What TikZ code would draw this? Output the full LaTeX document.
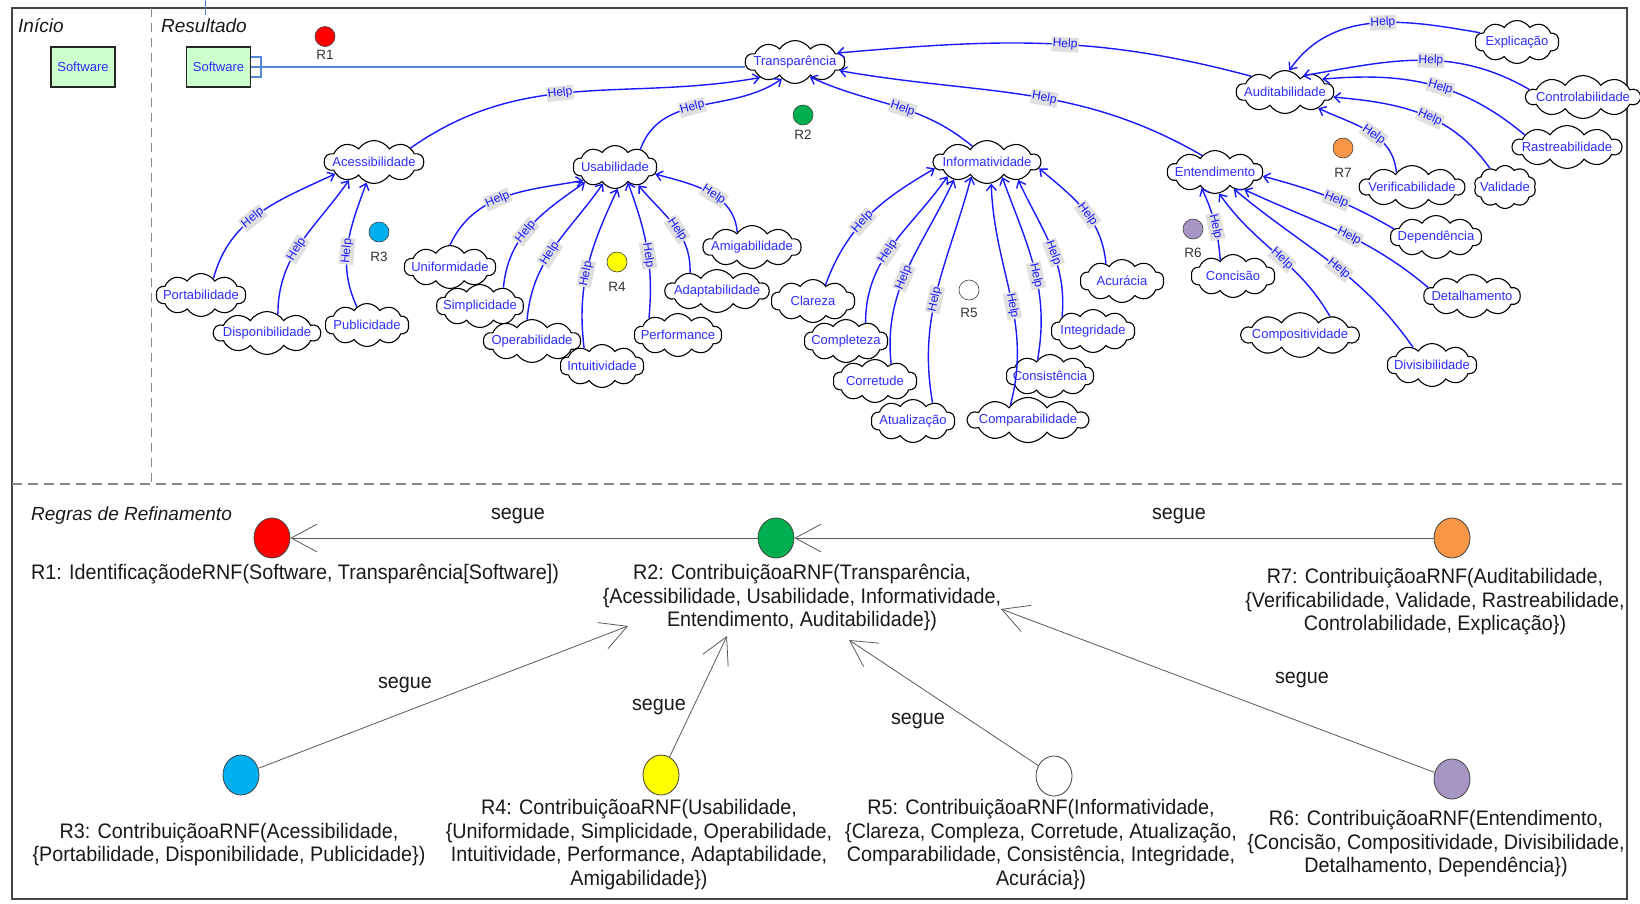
\documentclass[tikz,border=0pt]{standalone}
\usepackage{fontspec}
\setmainfont{Liberation Sans}
\newfontfamily\rulefont[FakeStretch=0.94]{Liberation Sans}
\usetikzlibrary{shapes.symbols,shapes.geometric,arrows.meta}

\definecolor{helpblue}{RGB}{25,25,255}
\definecolor{txtblue}{RGB}{45,45,255}
\definecolor{lblgray}{RGB}{224,224,224}
\definecolor{boxgreen}{RGB}{204,255,204}
\definecolor{steel}{RGB}{85,135,215}
\definecolor{framecol}{RGB}{70,70,70}
\definecolor{dashgray}{RGB}{135,135,135}
\definecolor{rred}{RGB}{255,0,0}
\definecolor{rgreen}{RGB}{0,176,80}
\definecolor{rcyan}{RGB}{0,176,240}
\definecolor{ryellow}{RGB}{255,255,0}
\definecolor{rpurple}{RGB}{166,150,196}
\definecolor{rorange}{RGB}{247,150,70}
\definecolor{ruletext}{RGB}{25,25,25}

% softgoal contribution: source anchor, out, in, target anchor
\newcommand\helplink[6]{%
  \draw[helpedge] (#1.#2) to[out=#3,in=#4] node[helplbl]{Help} (#5.#6);}

\begin{document}
\begin{tikzpicture}[x=1pt,y=1pt,
  softgoal/.style={cloud, cloud puffs=10, cloud puff arc=115, cloud ignores aspect,
    draw=black, line width=1.1pt, fill=white, inner xsep=-6pt, inner ysep=3pt,
    minimum width=84pt, minimum height=43pt,
    font=\fontsize{13}{15}\selectfont, text=txtblue},
  swbox/.style={draw=black!85, line width=1.1pt, fill=boxgreen, minimum width=64pt,
    minimum height=40pt, inner sep=0pt, font=\fontsize{13}{15}\selectfont, text=txtblue},
  helpedge/.style={draw=helpblue, line width=1.4pt, -{Straight Barb[length=6pt,width=10pt]}},
  helplbl/.style={sloped, pos=0.45, fill=lblgray, inner xsep=1pt, inner ysep=1.8pt,
    text=helpblue, font=\fontsize{12}{13}\selectfont},
  steelline/.style={draw=steel, line width=1.2pt},
  rdot/.style={circle, draw=black!75, line width=0.6pt, minimum size=20pt, inner sep=0pt},
  rlab/.style={font=\fontsize{13.5}{15}\selectfont, text=black!80, inner sep=0pt},
  sectitle/.style={font=\fontsize{19}{22}\selectfont\itshape, text=black!90, inner sep=0pt},
  rulebig/.style={ellipse, draw=black!75, line width=0.8pt, minimum width=36pt,
    minimum height=40pt, inner sep=0pt},
  ruletxt/.style={align=center, inner sep=0pt, text=ruletext,
    font=\rulefont\fontsize{21}{23.5}\selectfont},
  segueedge/.style={draw=black!65, line width=0.8pt, -{Straight Barb[length=26pt,width=28pt]}},
  seguelbl/.style={inner sep=0pt, text=ruletext, font=\rulefont\fontsize{21}{23.5}\selectfont}]

\useasboundingbox (0,0) rectangle (1640,-903);

% frame and lanes
\draw[framecol, line width=1.3pt] (12,-8) rectangle (1627,-899);
\draw[dashgray, line width=1.3pt, dash pattern=on 9pt off 6pt] (151.5,-8) -- (151.5,-484);
\draw[dashgray, line width=1.3pt, dash pattern=on 10pt off 6pt] (12,-484) -- (1627,-484);
\draw[steel, line width=1pt] (205.7,0) -- (205.7,-15);

\node[sectitle, anchor=west] (tinicio) at (18,-26) {Início};
\node[sectitle, anchor=west] (tresult) at (161,-26) {Resultado};
\node[sectitle, anchor=west] (tregras) at (31,-516) {Regras de Refinamento};

% software boxes
\node[swbox] (sw1) at (83,-67) {Software};
\node[swbox] (sw2) at (218.5,-67) {Software};

% softgoals
\node[softgoal] (T) at (795,-62) {Transparência};
\node[softgoal] (acc) at (374,-162) {Acessibilidade};
\node[softgoal] (usa) at (615,-167) {Usabilidade};
\node[softgoal] (inf) at (987,-162) {Informatividade};
\node[softgoal] (ent) at (1215,-172) {Entendimento};
\node[softgoal] (aud) at (1285,-92) {Auditabilidade};

\node[softgoal] (port) at (201,-295) {Portabilidade};
\node[softgoal] (disp) at (267,-333) {Disponibilidade};
\node[softgoal] (publ) at (367,-325) {Publicidade};

\node[softgoal] (unif) at (450,-267) {Uniformidade};
\node[softgoal] (simp) at (480,-306) {Simplicidade};
\node[softgoal] (oper) at (532,-341) {Operabilidade};
\node[softgoal] (intu) at (602,-366) {Intuitividade};
\node[softgoal] (perf) at (678,-335) {Performance};
\node[softgoal] (adap) at (717,-291) {Adaptabilidade};
\node[softgoal] (amig) at (752,-247) {Amigabilidade};

\node[softgoal] (clar) at (813,-301) {Clareza};
\node[softgoal] (comp) at (846,-341) {Completeza};
\node[softgoal] (corr) at (875,-381) {Corretude};
\node[softgoal] (atua) at (913,-421) {Atualização};
\node[softgoal] (compar) at (1028,-420) {Comparabilidade};
\node[softgoal] (cons) at (1050,-376) {Consistência};
\node[softgoal] (integ) at (1093,-331) {Integridade};
\node[softgoal] (acur) at (1122,-281) {Acurácia};

\node[softgoal] (conc) at (1233,-276) {Concisão};
\node[softgoal] (compos) at (1300,-335) {Compositividade};
\node[softgoal] (divis) at (1432,-365) {Divisibilidade};
\node[softgoal] (detal) at (1472,-296) {Detalhamento};
\node[softgoal] (depen) at (1436,-237) {Dependência};

\node[softgoal] (expl) at (1517,-42) {Explicação};
\node[softgoal] (contr) at (1583,-97) {Controlabilidade};
\node[softgoal] (rast) at (1567,-147) {Rastreabilidade};
\node[softgoal] (verif) at (1412,-187) {Verificabilidade};
\node[softgoal, minimum width=62pt] (valid) at (1505,-187) {Validade};

% rule markers
\node[rdot, fill=rred] (d1) at (325,-36.5) {};
\node[rlab] (l1) at (325,-55) {R1};
\node[rdot, fill=rgreen] (d2) at (803,-115) {};
\node[rlab] (l2) at (803,-135) {R2};
\node[rdot, fill=rcyan] (d3) at (379,-232) {};
\node[rlab] (l3) at (379,-257) {R3};
\node[rdot, fill=ryellow] (d4) at (617,-262) {};
\node[rlab] (l4) at (617,-287) {R4};
\node[rdot, fill=white] (d5) at (969,-290) {};
\node[rlab] (l5) at (969,-313) {R5};
\node[rdot, fill=rpurple] (d6) at (1193,-229) {};
\node[rlab] (l6) at (1193,-253) {R6};
\node[rdot, fill=rorange] (d7) at (1343,-148) {};
\node[rlab] (l7) at (1343,-173) {R7};

% software -> transparency link
\draw[steelline] (sw2.east) -- (sw2.east -| T.west);
\draw[steelline] ([yshift=10pt]sw2.east) -| ([xshift=10pt,yshift=-10pt]sw2.east) -- ([yshift=-10pt]sw2.east);

% contributions
\helplink{acc}{21}{35}{190}{T}{204}
\helplink{usa}{35}{70}{215}{T}{232}
\helplink{inf}{133}{140}{335}{T}{315}
\helplink{ent}{128}{150}{350}{T}{349}
\helplink{aud}{155}{165}{5}{T}{12}

\helplink{port}{53}{75}{205}{acc}{197}
\helplink{disp}{60}{90}{235}{acc}{216}
\helplink{publ}{119}{115}{250}{acc}{250}

\helplink{unif}{90}{65}{190}{usa}{203}
\helplink{simp}{38}{85}{215}{usa}{207}
\helplink{oper}{103}{85}{235}{usa}{234}
\helplink{intu}{135}{97}{245}{usa}{277}
\helplink{perf}{150}{85}{290}{usa}{310}
\helplink{adap}{146}{88}{310}{usa}{322}
\helplink{amig}{135}{95}{345}{usa}{350}

\helplink{clar}{52}{70}{210}{inf}{187}
\helplink{comp}{43}{90}{235}{inf}{200}
\helplink{corr}{47}{96}{245}{inf}{208}
\helplink{atua}{43}{100}{255}{inf}{223}
\helplink{compar}{140}{75}{272}{inf}{281}
\helplink{cons}{127}{80}{290}{inf}{315}
\helplink{integ}{155}{85}{295}{inf}{330}
\helplink{acur}{133}{95}{320}{inf}{353}

\helplink{conc}{129}{95}{295}{ent}{230}
\helplink{compos}{32}{120}{305}{ent}{281}
\helplink{divis}{137}{125}{320}{ent}{318}
\helplink{detal}{169}{140}{335}{ent}{329}
\helplink{depen}{169}{150}{345}{ent}{355}

\helplink{expl}{166}{170}{55}{aud}{79}
\helplink{contr}{172}{150}{10}{aud}{42}
\helplink{rast}{164}{140}{5}{aud}{19}
\helplink{valid}{129}{125}{355}{aud}{354}
\helplink{verif}{137}{95}{335}{aud}{334}

% refinement rules
\node[rulebig, fill=rred] (b1) at (272,-538) {};
\node[rulebig, fill=rgreen] (b2) at (776,-538) {};
\node[rulebig, fill=rorange] (b7) at (1452,-538) {};
\node[rulebig, fill=rcyan] (b3) at (241,-775) {};
\node[rulebig, fill=ryellow] (b4) at (661,-775) {};
\node[rulebig, fill=white] (b5) at (1054,-776) {};
\node[rulebig, fill=rpurple] (b6) at (1452,-779) {};

\node[ruletxt, anchor=west] (t1) at (31,-574) {R1: IdentificaçãodeRNF(Software, Transparência[Software])};
\node[ruletxt] (t2) at (802,-598) {R2: ContribuiçãoaRNF(Transparência,\\\{Acessibilidade, Usabilidade, Informatividade,\\Entendimento, Auditabilidade\})};
\node[ruletxt] (t7) at (1435,-602) {R7: ContribuiçãoaRNF(Auditabilidade,\\\{Verificabilidade, Validade, Rastreabilidade,\\Controlabilidade, Explicação\})};
\node[ruletxt] (t3) at (229,-844.5) {R3: ContribuiçãoaRNF(Acessibilidade,\\\{Portabilidade, Disponibilidade, Publicidade\})};
\node[ruletxt] (t4) at (639,-844.5) {R4: ContribuiçãoaRNF(Usabilidade,\\\{Uniformidade, Simplicidade, Operabilidade,\\Intuitividade, Performance, Adaptabilidade,\\Amigabilidade\})};
\node[ruletxt] (t5) at (1041,-844.5) {R5: ContribuiçãoaRNF(Informatividade,\\\{Clareza, Compleza, Corretude, Atualização,\\Comparabilidade, Consistência, Integridade,\\Acurácia\})};
\node[ruletxt] (t6) at (1436,-844) {R6: ContribuiçãoaRNF(Entendimento,\\\{Concisão, Compositividade, Divisibilidade,\\Detalhamento, Dependência\})};

\coordinate (in3) at (628,-626);
\coordinate (in4) at (727,-636);
\coordinate (in5) at (849,-640);
\coordinate (in6) at (1001,-609);

\draw[segueedge] (b2) -- (b1);
\draw[segueedge] (b7) -- (b2);
\draw[segueedge] (b3) -- (in3);
\draw[segueedge] (b4) -- (in4);
\draw[segueedge] (b5) -- (in5);
\draw[segueedge] (b6) -- (in6);

\node[seguelbl] (s12) at (518,-516) {segue};
\node[seguelbl] (s72) at (1179,-516) {segue};
\node[seguelbl] (s32) at (405,-685) {segue};
\node[seguelbl] (s42) at (659,-707) {segue};
\node[seguelbl] (s52) at (918,-721) {segue};
\node[seguelbl] (s62) at (1302,-680) {segue};
\end{tikzpicture}
\end{document}
